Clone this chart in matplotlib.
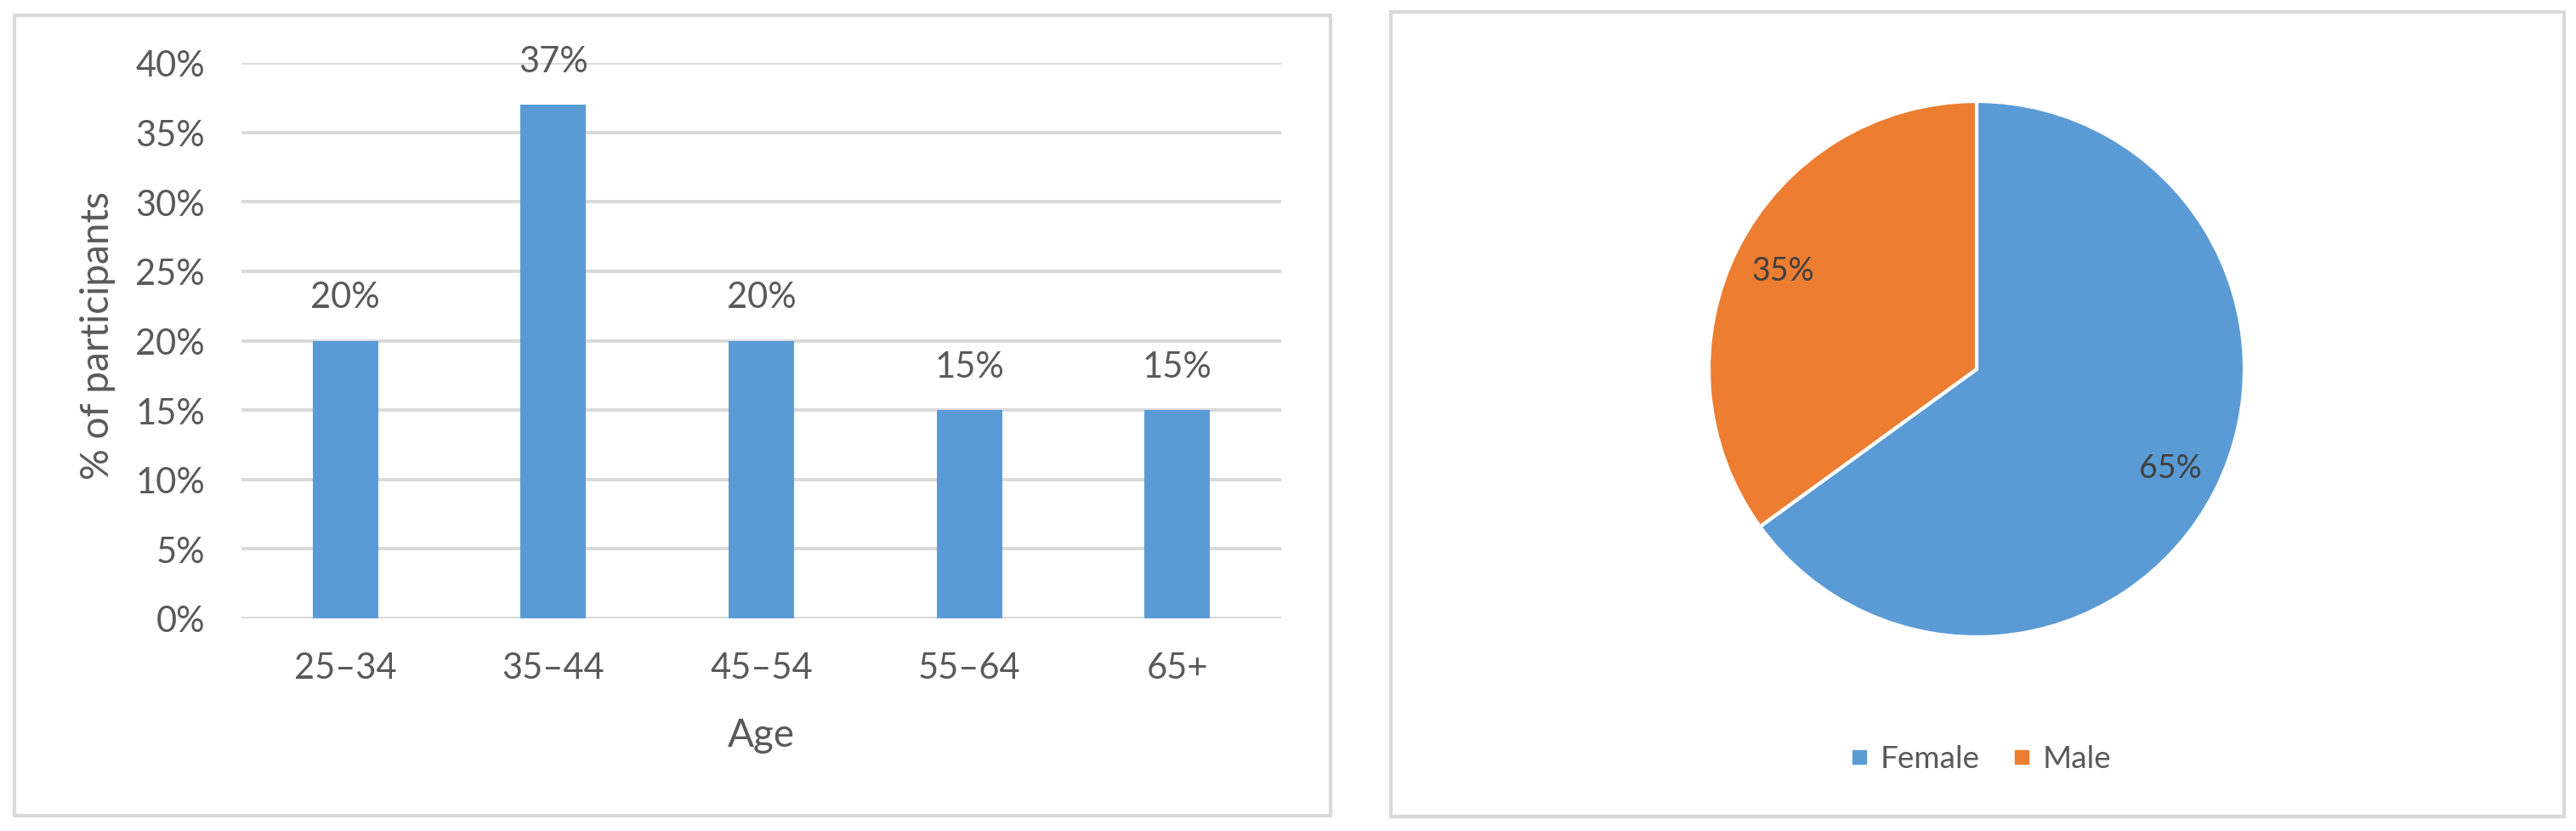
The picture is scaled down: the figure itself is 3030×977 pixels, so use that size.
import matplotlib
matplotlib.use("Agg")
import matplotlib.pyplot as plt
from matplotlib.patches import Rectangle
from matplotlib.lines import Line2D
from matplotlib.ticker import FuncFormatter

plt.rcParams['font.family'] = ['Lato', 'DejaVu Sans']

# ---- data ----
age_groups = ["25\u201334", "35\u201344", "45\u201354", "55\u201364", "65+"]
age_pct = [0.20, 0.37, 0.20, 0.15, 0.15]
age_labels = ["20%", "37%", "20%", "15%", "15%"]
y_ticks = [0.0, 0.05, 0.10, 0.15, 0.20, 0.25, 0.30, 0.35, 0.40]

sex_labels = ["Female", "Male"]
sex_values = [65, 35]

BLUE = "#5B9BD5"
ORANGE = "#ED7D31"
GRID = "#D9D9D9"
TXT = "#595959"
DARK = "#404040"

W, H = 3030, 978
fig = plt.figure(figsize=(W / 100, H / 100), dpi=100)
fig.patch.set_facecolor("white")

def fx(px):
    return px / W

def fy(py):
    return 1 - py / H

# frames
for (x0, y0, x1, y1) in [(17, 19, 1565, 960), (1636, 15, 3016, 961)]:
    fig.patches.append(Rectangle((fx(x0), fy(y1)), fx(x1 - x0), (y1 - y0) / H,
                                 transform=fig.transFigure, fill=False,
                                 edgecolor=GRID, linewidth=3, zorder=0))

# ---- bar chart ----
ax = fig.add_axes([fx(284), fy(728), fx(1507 - 284), (728 - 75) / H])
x = list(range(len(age_groups)))
ax.bar(x, age_pct, width=0.315, color=BLUE, zorder=3)
ax.set_xlim(-0.5, len(age_groups) - 0.5)
ax.set_ylim(0, 0.40)
ax.set_yticks(y_ticks)
ax.yaxis.set_major_formatter(FuncFormatter(lambda v, p: f"{round(v * 100)}%"))
ax.set_xticks(x)
ax.set_xticklabels(age_groups)
ax.grid(axis="y", color=GRID, linewidth=2.8, zorder=0)
ax.set_axisbelow(True)
for s in ax.spines.values():
    s.set_visible(False)
ax.tick_params(axis="both", length=0, labelsize=30, labelcolor=TXT)
ax.tick_params(axis="y", pad=31)
ax.tick_params(axis="x", pad=28)
for xi, v, lab in zip(x, age_pct, age_labels):
    ax.annotate(lab, (xi, v), xytext=(0, 37), textcoords="offset points",
                ha="center", va="center", fontsize=30, color=TXT)
ax.set_ylabel("% of participants", fontsize=33, color=TXT, va="center")
ax.yaxis.set_label_coords(-0.138, 0.51)
ax.set_xlabel("Age", fontsize=33, color=TXT, va="center")
ax.xaxis.set_label_coords(0.5, -0.21)

# ---- pie chart ----
cx, cy, r = 2325, 435, 315
pax = fig.add_axes([fx(cx - r), fy(cy + r), fx(2 * r), 2 * r / H])
wedges, texts, autotexts = pax.pie(
    sex_values, colors=[BLUE, ORANGE], startangle=90, counterclock=False,
    autopct=lambda p: f"{p:.0f}%", pctdistance=0.81, radius=1,
    wedgeprops=dict(edgecolor="white", linewidth=3),
    textprops=dict(fontsize=27, color=DARK))
pax.set_xlim(-1, 1)
pax.set_ylim(-1, 1)
pax.set_aspect("equal")
pax.axis("off")

handles = [Line2D([0], [0], marker="s", linestyle="none", markersize=11.5,
                  markerfacecolor=c, markeredgecolor=c) for c in [BLUE, ORANGE]]
fig.legend(handles, sex_labels, loc="center", bbox_to_anchor=(fx(2331), fy(893)),
           ncol=2, frameon=False, fontsize=26.5, labelcolor=TXT,
           handlelength=0.45, handletextpad=0.45, columnspacing=1.1,
           borderpad=0, borderaxespad=0)

fig.savefig("out.png", dpi=100, facecolor="white")
